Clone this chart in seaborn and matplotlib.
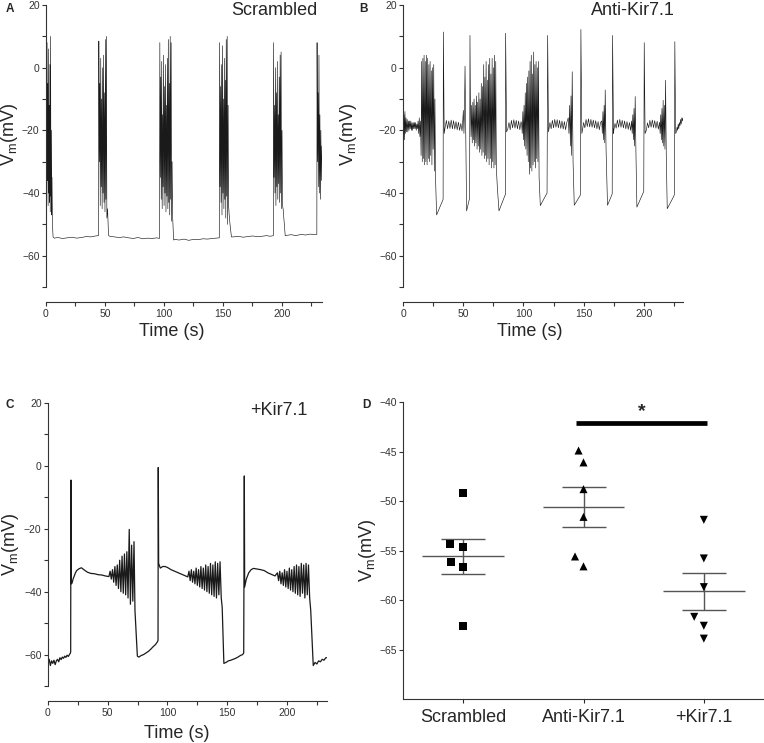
#!/usr/bin/env python3
"""Membrane potential traces (A-C) and resting Vm summary (D)."""

import matplotlib
matplotlib.use("Agg")
import matplotlib.pyplot as plt
import pandas as pd
import seaborn as sns
from matplotlib.ticker import MultipleLocator

# ---- A: Scrambled trace (time s, Vm mV) ----
A_T = [
    0.0, 0.3, 0.6, 0.9, 1.2, 1.5, 1.8, 2.1, 2.4, 2.7, 3.0, 3.3, 3.6, 3.9, 4.2, 4.5, 4.8, 5.1, 5.5, 6.0,
    7, 10, 14, 18, 22, 26, 30, 34, 38, 42, 44.4,
    44.6, 44.8, 45.2, 45.6, 46.0, 46.4, 46.8, 47.2, 47.6, 48.0, 48.4, 48.8, 49.2, 49.6, 50.0, 50.4,
    50.8, 51.2, 51.6, 52.2, 53.0,
    54, 58, 62, 66, 70, 74, 78, 82, 86, 90, 94, 96,
    96.2, 96.5, 96.9, 97.3, 97.7, 98.1, 98.5, 98.9, 99.3, 99.7, 100.1, 100.5, 100.9, 101.3, 101.7,
    102.1, 102.5, 102.9, 103.3, 103.7, 104.1, 104.5, 104.9, 105.3, 105.7, 106.1, 106.5, 106.9, 107.4, 108.2,
    109, 113, 117, 121, 125, 129, 133, 137, 141, 144, 146.7,
    146.9, 147.2, 147.6, 148.0, 148.4, 148.8, 149.2, 149.6, 150.0, 150.4, 150.8, 151.2, 151.6, 152.0,
    152.4, 152.8, 153.2, 153.6, 154.0, 154.4, 154.8, 155.3, 156.0, 157.2,
    159, 163, 167, 171, 175, 179, 183, 187, 190, 192.5,
    192.7, 192.9, 193.3, 193.7, 194.1, 194.5, 194.9, 195.3, 195.7, 196.1, 196.5, 196.9, 197.3, 197.7,
    198.1, 198.5, 198.9, 199.3, 199.7, 200.1, 200.5, 201.0, 201.6, 202.8,
    204, 208, 212, 216, 220, 224, 227, 229.4,
    229.6, 229.8, 230.2, 230.6, 231.0, 231.4, 231.8, 232.2, 232.6, 233.0, 233.4, 233.9,
]
A_V = [
    -38, 2, -42, 8, -36, -5, -44, 6, -40, -12, -43, 1, -46, 10, -41, -20, -47, -35, -50, -54,
    -54.4, -54.2, -54.5, -54.3, -54.1, -54.4, -54.2, -53.9, -54.0, -53.7, -53.6,
    -53.5, 8.5, -30, -5, -44, 3, -38, -10, -45, 0, -40, 4, -43, -8, -46, 9,
    -42, 10, -48, -45, -53.5,
    -53.8, -54.0, -54.2, -54.0, -54.3, -54.5, -54.2, -54.6, -54.4, -54.5, -54.3, -54.5,
    -54.5, 8, -35, -3, -42, 2, -45, -15, -38, 4, -44, -6, -40, 1, -46,
    -12, -41, 3, -45, 9, -43, -5, -47, 10, -42, 8, -49, -30, -48, -55,
    -54.8, -55.0, -54.7, -55.1, -54.8, -54.9, -54.6, -54.7, -54.5, -54.4, -54.3,
    -54.3, 8, -38, -6, -43, 1, -47, 7, -40, -10, -45, 3, -42, -4,
    -48, 9, -41, 10, -50, -12, -44, -47, -50, -54,
    -54.0, -53.8, -54.1, -53.9, -53.7, -53.9, -53.8, -53.6, -53.8, -53.6,
    -53.6, 8, -35, -12, -40, 0, -44, -8, -38, 2, -42, -15, -37, -3,
    -43, 4, -40, 5, -45, -20, -44, -45, -48, -53.6,
    -53.5, -53.3, -53.6, -53.2, -53.4, -53.1, -53.3, -53.2,
    -53.2, 8, -30, -8, -38, 4, -40, -15, -42, -20, -36, -25,
]

# ---- B: Anti-Kir7.1 trace ----
B_T = [
    0.0, 0.4, 0.8, 1.2, 1.6, 2.0, 2.5, 3.0, 3.5, 4.0, 4.5, 5.0, 5.5, 6.0, 6.5, 7.0, 7.5, 8.0, 8.5,
    9.0, 9.5, 10.0, 10.5, 11.0, 11.5, 12.0, 12.5, 13.0, 13.5,
    14.0, 14.5, 15.0, 15.5, 16.0, 16.5, 17.0, 17.5, 18.0, 18.5, 19.0, 19.5, 20.0, 20.5, 21.0, 21.5,
    22.0, 22.5, 23.0, 23.5, 24.0, 24.5, 25.0, 25.5, 26.0, 26.5, 27.0, 27.9, 32.9, 33.3, 33.5, 34.2,
    35, 36, 37, 38, 39, 40, 41, 42, 43, 44, 45, 46, 47, 48, 49,
    49.6, 50.1, 50.6, 51.0, 51.5, 52.8, 54.8, 55.3, 55.6, 56.0,
    56.5, 57.0, 57.5, 58.0, 58.5, 59.0, 59.5, 60.0, 60.5, 61.0, 61.5, 62.0, 62.5, 63.0, 63.5, 64.0,
    64.5, 65.0, 65.5, 66.0, 66.5, 67.0, 67.5, 68.0, 68.5, 69.0, 69.5, 70.0, 70.5, 71.0, 71.5, 72.0,
    72.5, 73.0, 73.5, 74.0, 74.5, 75.0, 75.5, 76.0, 76.5, 77.0, 77.5,
    78.3, 79.7, 84.6, 85.0, 85.2, 86.0,
    87, 88, 89, 90, 91, 92, 93, 94, 95, 96, 97, 98,
    98.5, 99.0, 99.5, 100.0, 100.5, 101.0, 101.5, 102.0, 102.5, 103.0, 103.5, 104.0, 104.5, 105.0,
    105.5, 106.0, 106.5, 107.0, 107.5, 108.0, 108.5, 109.0, 109.5, 110.0, 110.5, 111.0, 111.5, 112.0,
    112.5, 113.0,
    114.0, 119.2, 119.6, 120.1, 120.8,
    121, 122, 123, 124, 125, 126, 127, 128, 129, 130, 131, 132, 133, 134, 135, 136,
    137.2, 137.8, 138.4, 139.0, 139.5, 140.0, 140.5, 141.2, 142.2, 146.9, 147.3, 147.7, 148.5,
    149, 150, 151, 152, 153, 154, 155, 156, 157, 158, 159, 160, 161, 162, 163, 164,
    165.0, 165.5, 166.0, 166.5, 167.0, 167.5, 167.9, 168.6, 169.8, 173.7, 174.0, 174.8,
    175, 176, 177, 178, 179, 180, 181, 182, 183, 184, 185, 186, 187, 188, 189,
    189.8, 190.3, 190.8, 191.3, 191.8, 192.3, 192.8, 193.4, 194.2, 199.4, 199.9, 200.3, 201.0,
    202, 203, 204, 205, 206, 207, 208, 209, 210, 211, 212, 213,
    213.5, 214.0, 214.5, 215.0, 215.5, 216.0, 216.5, 217.0, 217.5, 218.0, 218.6, 219.4, 224.9,
    225.3, 225.7, 226.4, 227.0, 227.5, 228.0, 228.5, 229.0, 229.5, 230.0, 230.5, 231.0, 231.5,
    232.0, 232.5,
]
B_V = [
    -27, -20, -15, -23, -14, -21, -16, -20.5, -16.5, -20.5, -17, -20, -17, -19.5, -17, -20, -17.5,
    -20, -17.5, -19.5, -17.5, -19.5, -17.5, -20, -18, -19.5, -17, -21, -16,
    -22, -17, -28, 2, -30, 3, -29, 4, -31, 2, -30, 4, -31, 3, -29, 1,
    -30, 2, -28, -1, -31, 0, -26, 1, -33, -10, -35, -47, -42.4, -42, 11.4, -21,
    -19, -16.8, -19.5, -17, -19.4, -16.7, -19.5, -16.9, -19.6, -17.2, -19.8, -17.4, -20, -17.8, -20.2,
    -17, -13.6, -21, -15, 0.5, -45.7, -42.4, -41.8, 10.3, -12,
    -22, -12, -24, -11, -23, -10, -25, -12, -24, -9, -26, -11, -25, -8, -27, -10,
    -26, -5, -28, -6, -27, 1, -29, -3, -28, 2, -30, -4, -29, 1, -31, 3,
    -29, -2, -32, 3, -30, 0, -32, 4, -31, 2, -32,
    -38, -45.7, -40.8, -40.5, 11, -20.5,
    -19.5, -17.5, -19.8, -16.8, -19.2, -16.6, -19.3, -16.8, -19.5, -17, -19.8, -17.2,
    -18, -21, -14, -23, -12, -25, -8, -26, -5, -28, -3, -30, -1, -34,
    2, -32, 4, -33, -2, -31, 5, -30, 1, -32, 2, -29, 0, -30,
    2, -35,
    -44, -40.3, -40, 10.3, -20.5,
    -20, -17.5, -19.5, -16.8, -19.2, -16.5, -19, -16.6, -19.2, -16.8, -19.4, -17, -19.6, -17.2, -19.8, -17.5,
    -16, -21, -12, -25, -9, -28, -1.3, -30, -43.9, -40.9, -40.5, 12.2, -21,
    -20, -17.5, -19.2, -16.5, -18.8, -16.3, -18.9, -16.5, -19, -16.7, -19.2, -16.9, -19.5, -17.2, -19.8, -17.5,
    -17, -21, -14, -23, -12, -24, -7.1, -26, -43.9, -40.3, 10.3, -21,
    -20, -17.8, -19.3, -16.7, -19, -16.5, -19, -16.8, -19.2, -17, -19.5, -17.2, -19.7, -17.5, -20,
    -17, -21, -15, -23, -13, -25, -9.2, -27, -44.5, -40, -39.5, 8, -21,
    -20, -17.6, -19.2, -16.8, -19, -16.7, -19.1, -16.9, -19.3, -17.1, -19.6, -17.4,
    -21, -15, -23, -13, -24, -10.4, -25, -12, -26, -4, -28, -45, -41,
    -40.5, 8.3, -21, -20.5, -19, -20, -18, -19.5, -17.5, -18.5, -16.5, -18, -16,
    -17, -16,
]

# ---- C: +Kir7.1 trace ----
C_T = [
    0, 1, 2, 3, 4, 5, 6, 7, 8, 9, 10, 11, 12, 13, 14, 15, 16, 17, 18, 18.8,
    19.0, 19.2, 19.5, 20.1, 21, 22, 23, 24, 26, 28, 30, 33, 36, 39, 42, 45, 48, 51,
    52, 53, 54, 55, 56, 57, 58, 59, 60, 61, 62, 63, 64, 65, 66, 67, 68, 69, 70, 71, 72, 72.8,
    74.8, 76, 78, 80, 82, 84, 86, 88, 90, 91.5, 92.1, 92.3, 92.6,
    94, 96, 98, 100, 103, 106, 109, 112, 115, 117,
    118, 119, 120, 121, 122, 123, 124, 125, 126, 127, 128, 129, 130, 131, 132, 133, 134, 135,
    136, 137, 138, 139, 140, 141, 142, 143, 144, 145,
    145.8, 147.2, 149, 151, 153, 155, 157, 159, 161, 162.9, 163.8, 164.3, 164.6,
    166, 168, 170, 172, 175, 178, 181, 184, 187, 190,
    192, 193, 194, 195, 196, 197, 198, 199, 200, 201, 202, 203, 204, 205, 206, 207, 208, 209,
    210, 211, 212, 213, 214, 215, 216, 217, 218, 219,
    219.9, 222, 223.5, 225, 226.5, 228, 229.5, 231, 232.5, 233.5,
]
C_V = [
    -63, -61.5, -63.5, -62, -62.8, -61.8, -63.2, -62, -61.5, -62.3, -61, -61.6, -60.8, -61.2, -60.5,
    -60.9, -60.2, -60.6, -60, -59.5,
    -59, -4.5, -37.5, -37.3, -36, -35, -34, -33.3, -32.7, -32.4, -33, -33.8, -34.2, -34.3, -34.6,
    -34.7, -35, -35.2,
    -33.5, -36, -33, -37, -32, -38, -31.5, -39, -30, -40, -28.7, -40.5, -28, -41, -27.3, -42,
    -20.2, -44, -25.2, -43, -24.1, -46,
    -60.5, -60.8, -60.3, -60, -59.5, -59, -58.3, -57.5, -56.8, -56, -55.5, -0.5, -31,
    -32.5, -32, -32, -32.3, -33, -33.5, -34, -34.5, -35, -35.3,
    -33.5, -36.5, -33, -37, -33.5, -37.5, -32.5, -38, -33, -38.5, -32, -39, -32.5, -39.5, -31.5,
    -40, -32, -40.5, -31, -41, -31.5, -41.5, -30.5, -42, -31, -41, -30.5, -42,
    -45, -62.8, -62.5, -62, -61.8, -61.5, -61.2, -60.8, -60.3, -60, -59.5, -3.2, -38.5,
    -36, -34, -33, -32.6, -32.8, -33, -33.3, -34, -34.5, -35,
    -34, -36.5, -33.5, -37.5, -34, -38, -33, -38.5, -33.5, -39, -32.5, -39.5, -33, -40, -32,
    -40.5, -31.5, -41, -32, -41.5, -31, -40.5, -31.5, -42, -31, -41, -31.5, -42,
    -46, -63.5, -62.5, -63, -62, -62.3, -61.5, -61.8, -61, -61,
]

# ---- D: resting Vm per cell ----
GROUPS = ["Scrambled", "Anti-Kir7.1", "+Kir7.1"]
SCRAMBLED_VM = [-49.2, -54.6, -54.3, -56.2, -56.7, -62.6]
ANTI_VM = [-44.9, -46.1, -48.8, -51.6, -55.6, -56.6]
PLUS_VM = [-51.9, -55.8, -58.7, -61.7, -62.6, -63.9]
MARKERS = ["s", "^", "v"]

TRACE_PANELS = [
    # title, times, volts, axes rect, x max, line width, title anchor, label coords
    ("Scrambled", A_T, A_V, [0.0602, 0.6137, 0.3613, 0.3795], 234, 0.45,
     (0.415, 0.9798), (-0.094, 0.54), (0.457, -0.128)),
    ("Anti-Kir7.1", B_T, B_V, [0.5275, 0.6137, 0.3665, 0.3795], 232.5, 0.45,
     (0.8835, 0.9798), (-0.157, 0.54), (0.454, -0.128)),
    ("+Kir7.1", C_T, C_V, [0.0628, 0.0767, 0.3652, 0.3809], 233.5, 0.9,
     (0.403, 0.4415), (-0.096, 0.5), (0.462, -0.137)),
]

FONT = ["Liberation Sans", "DejaVu Sans"]
VM_LABEL = r"V$_\mathregular{m}$(mV)"
INK = "#333333"


def style_trace_axis(ax, xmax):
    ax.set_xlim(0, xmax)
    ax.set_ylim(-70, 20)
    ax.xaxis.set_major_locator(MultipleLocator(50))
    ax.xaxis.set_minor_locator(MultipleLocator(25))
    ax.yaxis.set_major_locator(MultipleLocator(20))
    ax.yaxis.set_minor_locator(MultipleLocator(10))
    sns.despine(ax=ax, offset={"bottom": 11, "left": 0})
    ax.tick_params(which="both", direction="out", length=2.6, width=0.8,
                   labelsize=7.5, pad=2, colors=INK)
    for side in ("left", "bottom"):
        ax.spines[side].set_linewidth(0.8)
        ax.spines[side].set_color(INK)


def main():
    sns.set_theme(style="ticks")
    plt.rcParams["font.family"] = FONT
    plt.rcParams["mathtext.fontset"] = "custom"
    plt.rcParams["mathtext.rm"] = "Liberation Sans"

    fig = plt.figure(figsize=(7.64, 7.43), dpi=100)

    for title, times, volts, rect, xmax, lw, title_xy, ylab_xy, xlab_xy in TRACE_PANELS:
        ax = fig.add_axes(rect)
        trace = pd.DataFrame({"t": times, "vm": volts})
        sns.lineplot(data=trace, x="t", y="vm", ax=ax, color="#1a1a1a",
                     linewidth=lw, estimator=None, sort=False)
        style_trace_axis(ax, xmax)
        ax.set_xlabel("Time (s)", fontsize=13)
        ax.set_ylabel(VM_LABEL, fontsize=13)
        ax.xaxis.set_label_coords(*xlab_xy)
        ax.yaxis.set_label_coords(*ylab_xy)
        fig.text(title_xy[0], title_xy[1], title, ha="right", va="baseline", fontsize=13)

    # ---- D: scatter with mean +/- SEM ----
    axd = fig.add_axes([0.5275, 0.0592, 0.4725, 0.3997])
    cells = pd.DataFrame({
        "group": [GROUPS[0]] * len(SCRAMBLED_VM) + [GROUPS[1]] * len(ANTI_VM)
        + [GROUPS[2]] * len(PLUS_VM),
        "vm": SCRAMBLED_VM + ANTI_VM + PLUS_VM,
    })
    # invisible edge widens the swarm spacing without enlarging the markers
    for grp, mk in zip(GROUPS, MARKERS):
        sns.swarmplot(data=cells[cells["group"] == grp], x="group", y="vm", order=GROUPS,
                      marker=mk, color="black", size=5.8, linewidth=3.4,
                      edgecolor="none", ax=axd)

    stats = cells.groupby("group", sort=False)["vm"].agg(["mean", "sem"]).reindex(GROUPS)
    pos = list(range(len(GROUPS)))
    axd.errorbar(pos, stats["mean"], yerr=stats["sem"], fmt="none",
                 ecolor="#555555", elinewidth=1.0, capsize=16, capthick=1.0)
    axd.hlines(stats["mean"], [p - 0.34 for p in pos], [p + 0.34 for p in pos],
               color="#555555", linewidth=1.0)

    # significance bar between Anti-Kir7.1 and +Kir7.1
    axd.plot([0.94, 2.03], [-42.1, -42.1], color="black", linewidth=3.4, solid_capstyle="butt")
    axd.text(1.485, -41.0, "*", ha="center", va="center", fontsize=14, fontweight="bold")

    axd.set_xlim(-0.5, 2.5)
    axd.set_ylim(-70, -40)
    axd.set_yticks([-65, -60, -55, -50, -45, -40])
    sns.despine(ax=axd)
    axd.tick_params(axis="y", direction="out", length=2.6, width=0.8, labelsize=7.5,
                    pad=2, colors=INK)
    axd.tick_params(axis="x", direction="out", length=3, width=0.8, labelsize=13, pad=4)
    for side in ("left", "bottom"):
        axd.spines[side].set_linewidth(0.8)
        axd.spines[side].set_color(INK)
    axd.set_xlabel("")
    axd.set_ylabel(VM_LABEL, fontsize=13)
    axd.yaxis.set_label_coords(-0.07, 0.5)

    # panel letters
    for letter, (x, y) in zip("ABCD", [(0.007, 0.988), (0.47, 0.988), (0.007, 0.455), (0.474, 0.455)]):
        fig.text(x, y, letter, fontsize=8.5, fontweight="bold", ha="left", va="center")

    fig.savefig("out.png", dpi=100)
    plt.close(fig)


if __name__ == "__main__":
    main()
